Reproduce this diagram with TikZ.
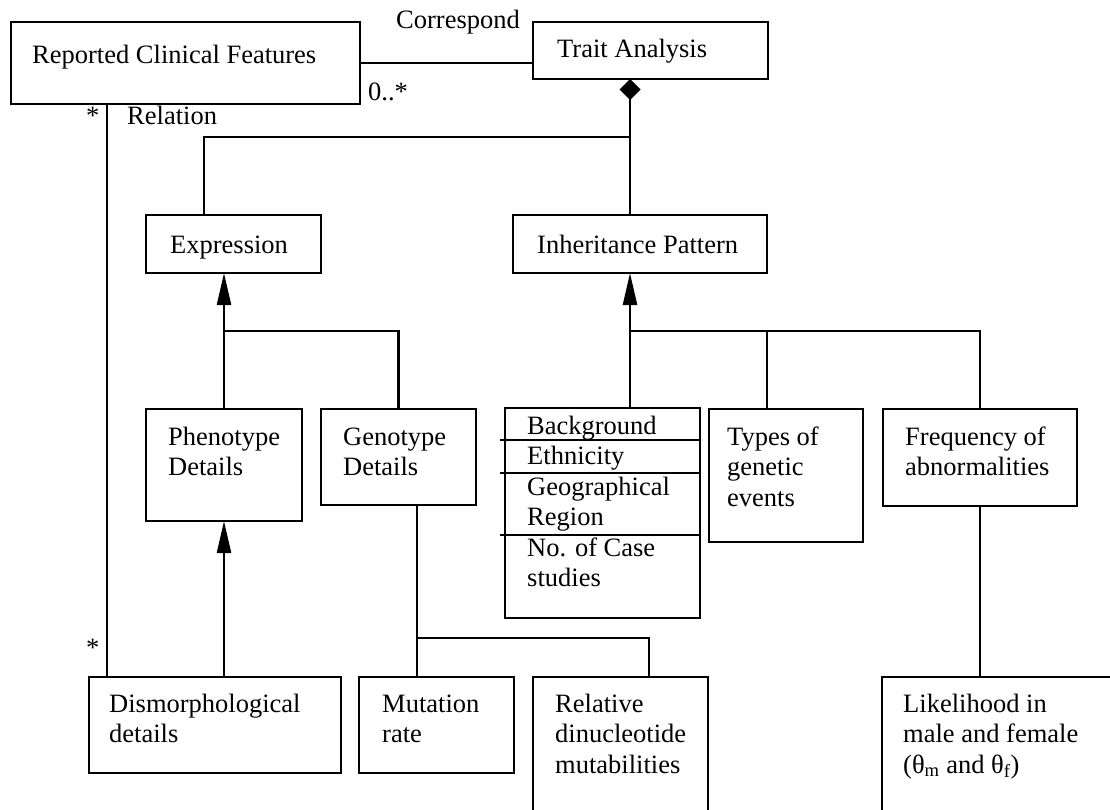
\documentclass[tikz,border=0pt]{standalone}
\usepackage{fontspec}
\setmainfont{Liberation Serif}
\usetikzlibrary{arrows.meta}
\begin{document}
\begin{tikzpicture}[x=1pt,y=-1pt,
  every node/.style={font=\fontsize{26.5}{30.5}\selectfont},
  box/.style={draw, line width=2.4pt, inner sep=0pt, outer sep=0pt, anchor=north west},
  txt/.style={anchor=north west, inner sep=0pt, align=left, yshift=21.35pt},
  conn/.style={line width=2.4pt},
  gen/.style={conn, -{Triangle[length=32pt,width=14pt]}},
  comp/.style={conn, {Diamond[length=21pt,width=21pt]}-},
]
\fill[white] (0,0) rectangle (1110,809);
\useasboundingbox (0,0) rectangle (1110,809);

% class boxes
\node[box, minimum width=349pt, minimum height=82pt]  (rcf)   at (11,22)   {};
\node[box, minimum width=235pt, minimum height=57pt]  (trait) at (533,22)  {};
\node[box, minimum width=175pt, minimum height=58pt]  (expr)  at (146,215) {};
\node[box, minimum width=254pt, minimum height=58pt]  (inh)   at (513,215) {};
\node[box, minimum width=156pt, minimum height=112pt] (pheno) at (146,409) {};
\node[box, minimum width=155pt, minimum height=96pt]  (geno)  at (321,409) {};
\node[box, minimum width=195pt, minimum height=210pt] (back)  at (505,408) {};
\node[box, minimum width=154pt, minimum height=133pt] (types) at (709,409) {};
\node[box, minimum width=194pt, minimum height=97pt]  (freq)  at (883,409) {};
\node[box, minimum width=252pt, minimum height=96pt]  (dism)  at (89,677)  {};
\node[box, minimum width=155pt, minimum height=96pt]  (mut)   at (359,677) {};
\node[box, minimum width=175pt, minimum height=160pt] (rel)   at (533,677) {};
\node[box, minimum width=260pt, minimum height=160pt] (like)  at (882,677) {};

% attribute rules inside the background box
\foreach \yy in {440,473,535}
  \draw[line width=2pt] ([xshift=-5pt]back.west |- 0,\yy) -- (back.east |- 0,\yy);

% box texts (placed by first baseline)
\node[txt] (tRcf)   at (32,63)   {\strut Reported Clinical Features};
\node[txt] (tTrait) at (557,57)  {\strut Trait Analysis};
\node[txt] (tExpr)  at (170,253) {\strut Expression};
\node[txt] (tInh)   at (537,253) {\strut Inheritance Pattern};
\node[txt] (tPheno) at (168,445) {\strut Phenotype\\Details};
\node[txt] (tGeno)  at (343,445) {\strut Genotype\\Details};
\node[txt] (tBack)  at (527,434) {\strut Background\\Ethnicity\\Geographical\\Region\\No. of Case\\studies};
\node[txt] (tTypes) at (727,445) {\strut Types of\\genetic\\events};
\node[txt] (tFreq)  at (905,445) {\strut Frequency of\\abnormalities};
\node[txt] (tDism)  at (109,712) {\strut Dismorphological\\details};
\node[txt] (tMut)   at (382,712) {\strut Mutation\\rate};
\node[txt] (tRel)   at (555,712) {\strut Relative\\dinucleotide\\mutabilities};
\node[txt] (tLike)  at (903,712) {\strut Likelihood in\\male and female\\(θ\textsubscript{m} and θ\textsubscript{f})};

% association labels
\node[txt] (corr)  at (396,28)  {\strut Correspond};
\node[txt] (mult)  at (368,100) {\strut 0..*};
\node[txt] (star1) at (86,124)  {\strut *};
\node[txt] (relT)  at (127,124) {\strut Relation};
\node[txt] (star2) at (86,656)  {\strut *};

% bus levels and junctions
\coordinate (split) at (630,137);
\coordinate (busE)  at (0,331);
\coordinate (busG)  at (0,638);
\coordinate (relx)  at (107,0);
\coordinate (gx)    at (417,0);

% associations
\draw[conn] (rcf.east) -- (rcf.east -| trait.west);
\draw[conn] (rcf.south -| relx) -- (dism.north -| relx);

% composition
\draw[comp] ([xshift=-20.5pt]trait.south) -- ([xshift=-10pt]inh.north);
\draw[conn] (split) -| ([xshift=-29.5pt]expr.north);

% generalisations into Expression
\draw[gen] (pheno.north) -- (pheno.north |- expr.south);
\draw[conn] (geno.north) |- (pheno.north |- busE);

% generalisations into Inheritance Pattern
\draw[gen] ([xshift=27.5pt]back.north) -- ([xshift=-10pt]inh.south);
\draw[conn] (freq.north) |- ([xshift=-10pt]inh.south |- busE);
\draw[conn] ([xshift=-19pt]types.north) -- ([xshift=-19pt]types.north |- busE);

% lower level
\draw[gen] (dism.north -| pheno.south) -- (pheno.south);
\draw[conn] (geno.south -| gx) -- (mut.north -| gx);
\draw[conn] (gx |- busG) -| ([xshift=28.5pt]rel.north);
\draw[conn] (freq.south) -- (freq.south |- like.north);
\end{tikzpicture}
\end{document}
